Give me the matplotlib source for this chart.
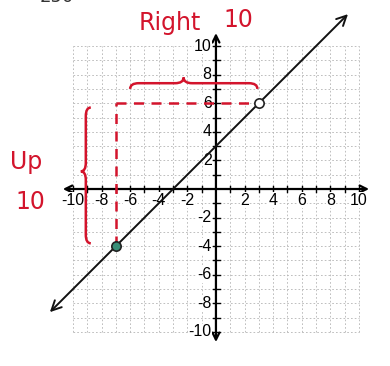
import numpy as np
import matplotlib.pyplot as plt
from matplotlib.path import Path
from matplotlib.patches import PathPatch

# line y = x + 3 through two marked points
pts_x = [-7, 3]
pts_y = [-4, 6]
slope = 1
intercept = 3
line_x = [-11.75, 9.37]

ticks = list(range(-10, 11))
label_ticks = [-10, -8, -6, -4, -2, 2, 4, 6, 8, 10]

RED = '#d3142c'


def brace_path(a, b, h, tip, w=0.6):
    # curly brace from a to b along u, bulging to +h in v, tip at fraction tip
    m = a + (b - a) * tip
    verts = [(a, 0), (a, h / 2), (a + w, h / 2),
             (m - w, h / 2),
             (m, h / 2), (m, h),
             (m, h / 2), (m + w, h / 2),
             (b - w, h / 2),
             (b, h / 2), (b, 0)]
    codes = [Path.MOVETO, Path.CURVE3, Path.CURVE3,
             Path.LINETO,
             Path.CURVE3, Path.CURVE3,
             Path.CURVE3, Path.CURVE3,
             Path.LINETO,
             Path.CURVE3, Path.CURVE3]
    return np.array(verts), codes


fig = plt.figure(figsize=(3.9, 3.66), dpi=100)
ax = fig.add_axes([0, 0, 1, 1])
ax.set_xlim(-15.1, 12.17)
ax.set_ylim(-12.38, 13.22)
ax.axis('off')

# dotted graph-paper grid
for t in ticks:
    ax.plot([t, t], [-10, 10], color='#b4b4b4', lw=0.6, ls=(0, (2, 2.5)), zorder=1)
    ax.plot([-10, 10], [t, t], color='#b4b4b4', lw=0.6, ls=(0, (2, 2.5)), zorder=1)

# axes with arrows
arrow = dict(arrowstyle='<->,head_length=0.5,head_width=0.25', color='black', lw=1.6)
ax.annotate('', xy=(10.9, 0), xytext=(-10.9, 0), arrowprops=arrow, zorder=3)
ax.annotate('', xy=(0, 11.1), xytext=(0, -10.9), arrowprops=arrow, zorder=3)

for t in ticks:
    if t == 0:
        continue
    ax.plot([t, t], [-0.2, 0.2], color='black', lw=1, zorder=3)
    ax.plot([-0.2, 0.25], [t, t], color='black', lw=1, zorder=3)

box = dict(facecolor='white', edgecolor='none', pad=0.2)
for t in label_ticks:
    ax.text(t, -0.25, str(t), ha='center', va='top', fontsize=11.5,
            family='Liberation Sans', bbox=box, zorder=4)
    ax.text(-0.3, t, str(t), ha='right', va='center', fontsize=11.5,
            family='Liberation Sans', bbox=box, zorder=4)

# the line
line_y = [slope * x + intercept for x in line_x]
ax.annotate('', xy=(line_x[1], line_y[1]), xytext=(line_x[0], line_y[0]),
            arrowprops=dict(arrowstyle='<->,head_length=0.7,head_width=0.35',
                            color='#111111', lw=1.4), zorder=5)

# rise and run guides
ax.plot([pts_x[0], pts_x[1]], [pts_y[1], pts_y[1]], color=RED, lw=1.8,
        ls=(0, (4, 3)), zorder=4)
ax.plot([pts_x[0], pts_x[0]], [pts_y[0], pts_y[1]], color=RED, lw=1.8,
        ls=(0, (4, 3)), zorder=4)

ax.scatter([pts_x[1]], [pts_y[1]], s=45, facecolor='white', edgecolor='#222222',
           lw=1.2, zorder=6)
ax.scatter([pts_x[0]], [pts_y[0]], s=45, facecolor='#3a8f78', edgecolor='#222222',
           lw=1.2, zorder=6)

# horizontal brace over the run
v, c = brace_path(-6.0, 2.9, 0.8, 0.42)
ax.add_patch(PathPatch(Path(np.column_stack([v[:, 0], 7.0 + v[:, 1]]), c),
                       fill=False, edgecolor=RED, lw=1.8, zorder=4))
ax.text(-3.2, 11.6, 'Right', color=RED, fontsize=17, ha='center', va='center')
ax.text(1.6, 11.8, '10', color=RED, fontsize=17, ha='center', va='center')

# vertical brace beside the rise
v, c = brace_path(-3.8, 5.7, 0.7, 0.53)
ax.add_patch(PathPatch(Path(np.column_stack([-8.75 - v[:, 1], v[:, 0]]), c),
                       fill=False, edgecolor=RED, lw=1.8, zorder=4))
ax.text(-13.3, 1.9, 'Up', color=RED, fontsize=17, ha='center', va='center')
ax.text(-13.0, -0.9, '10', color=RED, fontsize=17, ha='center', va='center')

ax.text(-11.1, 13.4, '250', color='#333333', fontsize=13, ha='center', va='center')

fig.savefig('out.png', dpi=100)
